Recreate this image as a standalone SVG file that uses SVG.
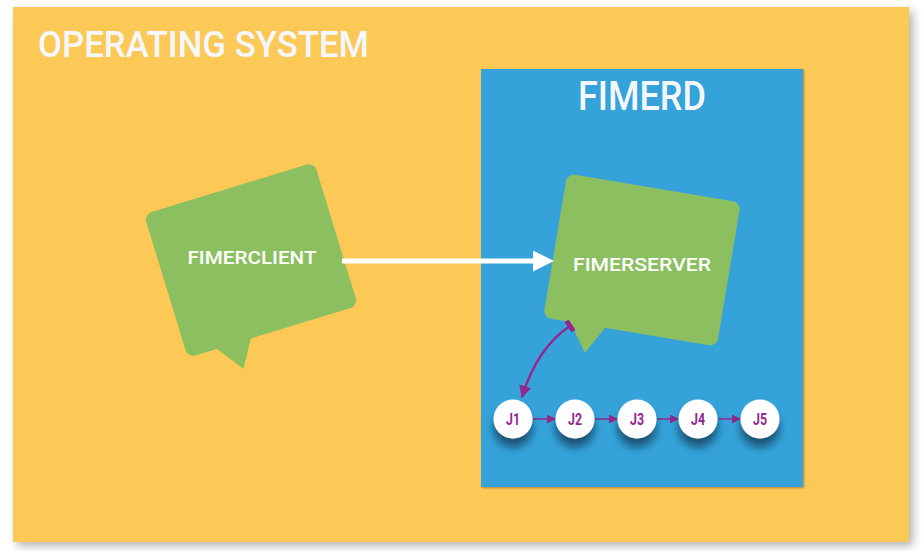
<svg xmlns="http://www.w3.org/2000/svg" width="921" height="551" viewBox="0 0 921 551">
<defs>
<filter id="osShadow" x="-10%" y="-10%" width="120%" height="120%">
<feDropShadow dx="4" dy="4" stdDeviation="5" flood-color="#000" flood-opacity="0.3"/>
</filter>
<filter id="boxShadow" x="-10%" y="-10%" width="120%" height="120%">
<feDropShadow dx="1" dy="1" stdDeviation="1.2" flood-color="#000" flood-opacity="0.35"/>
</filter>
<filter id="jobShadow" x="-60%" y="-60%" width="220%" height="240%">
<feDropShadow dx="0" dy="9" stdDeviation="4" flood-color="#0b3a55" flood-opacity="0.75"/>
</filter>
<marker id="whiteHead" viewBox="0 0 10 10" refX="0" refY="5" markerWidth="4.2" markerHeight="4.2" markerUnits="strokeWidth" orient="auto">
<path d="M0,0 L10,5 L0,10 z" fill="#ffffff"/>
</marker>
<marker id="purpleHead" viewBox="0 0 10 10" refX="9" refY="5" markerWidth="5" markerHeight="5" markerUnits="strokeWidth" orient="auto">
<path d="M0,0 L10,5 L0,10 z" fill="#93278f"/>
</marker>
<marker id="purpleTee" viewBox="0 0 4 10" refX="2" refY="5" markerWidth="2" markerHeight="5" markerUnits="strokeWidth" orient="auto">
<rect x="0" y="0" width="4" height="10" fill="#93278f"/>
</marker>
<marker id="smallHead" viewBox="0 0 10 10" refX="9" refY="5" markerWidth="6" markerHeight="6" markerUnits="strokeWidth" orient="auto">
<path d="M0,0 L10,5 L0,10 z" fill="#93278f"/>
</marker>
</defs>
<style>
.title{font-family:"Roboto","DejaVu Sans",sans-serif;font-weight:500;fill:#f4f8fc;}
.bubble{fill:#8cbf5f;}
.blbl{font-family:"Roboto","DejaVu Sans",sans-serif;font-weight:500;font-size:19px;fill:#ffffff;text-anchor:middle;}
.job{fill:#ffffff;}
.jlbl{font-family:"Roboto","DejaVu Sans",sans-serif;font-size:16px;font-weight:bold;fill:#93278f;text-anchor:middle;}
</style>
<rect width="921" height="551" fill="#ffffff"/>
<g id="os">
<rect x="13" y="7" width="896" height="535" fill="#fdc957" filter="url(#osShadow)"/>
<text class="title" x="38" y="57" font-size="37" textLength="331" lengthAdjust="spacingAndGlyphs">OPERATING SYSTEM</text>
</g>
<g id="fimerd">
<rect x="481" y="69" width="322" height="418" fill="#34a3da" filter="url(#boxShadow)"/>
<text class="title" x="642" y="110" font-size="41" text-anchor="middle" textLength="128" lengthAdjust="spacingAndGlyphs">FIMERD</text>
</g>
<g id="fimerclient">
<g transform="translate(251,260) rotate(-17)">
<rect class="bubble" x="-89" y="-75" width="178" height="150" rx="8"/>
<path class="bubble" d="M-60,73 L-39,102 L-22,73 z"/>
</g>
<text class="blbl" x="252" y="264" textLength="129" lengthAdjust="spacingAndGlyphs">FIMERCLIENT</text>
</g>
<g id="fimerserver">
<g transform="translate(642,260) rotate(9.5)">
<rect class="bubble" x="-88" y="-73" width="176" height="146" rx="8"/>
<path class="bubble" d="M-62,71 L-41,101 L-24,71 z"/>
</g>
<text class="blbl" x="642" y="271" textLength="138" lengthAdjust="spacingAndGlyphs">FIMERSERVER</text>
</g>
<g id="connectors">
<line x1="342" y1="261" x2="533" y2="261" stroke="#ffffff" stroke-width="5" marker-end="url(#whiteHead)"/>
<path d="M570,326 Q537,348 522,397" fill="none" stroke="#93278f" stroke-width="2.5" marker-start="url(#purpleTee)" marker-end="url(#purpleHead)"/>
<line x1="533" y1="419" x2="555" y2="419" stroke="#93278f" stroke-width="1.5" marker-end="url(#smallHead)"/>
<line x1="595" y1="419" x2="617" y2="419" stroke="#93278f" stroke-width="1.5" marker-end="url(#smallHead)"/>
<line x1="657" y1="419" x2="678" y2="419" stroke="#93278f" stroke-width="1.5" marker-end="url(#smallHead)"/>
<line x1="718" y1="419" x2="740" y2="419" stroke="#93278f" stroke-width="1.5" marker-end="url(#smallHead)"/>
</g>
<g id="j1"><circle class="job" cx="513" cy="419" r="19.5" filter="url(#jobShadow)"/><text class="jlbl" x="513" y="425" textLength="14" lengthAdjust="spacingAndGlyphs">J1</text></g>
<g id="j2"><circle class="job" cx="575" cy="419" r="19.5" filter="url(#jobShadow)"/><text class="jlbl" x="575" y="425" textLength="14" lengthAdjust="spacingAndGlyphs">J2</text></g>
<g id="j3"><circle class="job" cx="637" cy="419" r="19.5" filter="url(#jobShadow)"/><text class="jlbl" x="637" y="425" textLength="14" lengthAdjust="spacingAndGlyphs">J3</text></g>
<g id="j4"><circle class="job" cx="698" cy="419" r="19.5" filter="url(#jobShadow)"/><text class="jlbl" x="698" y="425" textLength="14" lengthAdjust="spacingAndGlyphs">J4</text></g>
<g id="j5"><circle class="job" cx="760" cy="419" r="19.5" filter="url(#jobShadow)"/><text class="jlbl" x="760" y="425" textLength="14" lengthAdjust="spacingAndGlyphs">J5</text></g>
</svg>
